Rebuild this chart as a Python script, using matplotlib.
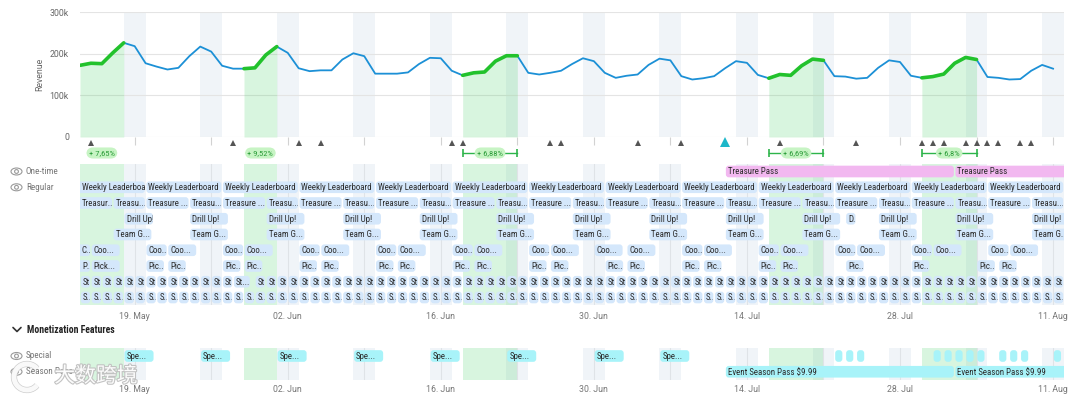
import numpy as np
import pandas as pd
import matplotlib
matplotlib.use("Agg")
import matplotlib.pyplot as plt
import matplotlib.dates as mdates
from matplotlib.patches import FancyBboxPatch, Ellipse, Circle, Arc
from matplotlib.font_manager import FontProperties
from matplotlib.transforms import Bbox, TransformedBbox
import matplotlib.patheffects as pe

plt.rcParams['font.family'] = ['Roboto', 'DejaVu Sans']
BAR_FONT = ['Roboto Condensed', 'Roboto', 'DejaVu Sans']

# ---------------- data ----------------
first_day = '2024-05-14'
last_day = '2024-08-11'
revenue_k = [172, 177, 176, 202, 226, 218, 177, 169, 162, 166, 194, 217, 205, 171, 164, 164, 166, 197,
             217, 202, 165, 158, 160, 160, 186, 201, 194, 152, 152, 152, 155, 175, 190, 189, 159, 148,
             154, 156, 182, 195, 195, 154, 150, 154, 159, 175, 189, 182,
             154, 142, 147, 150, 173, 188, 184, 146, 138, 141, 146, 165, 182, 178, 149, 141, 150, 148,
             171, 187, 184, 146, 145, 140, 142, 166, 184, 180, 147, 142, 145,
             151, 177, 191, 186, 144, 142, 138, 139, 159, 173, 164]
yticks_k = [0, 100, 200, 300]
tick_dates = ['2024-05-19', '2024-06-02', '2024-06-16', '2024-06-30', '2024-07-14', '2024-07-28', '2024-08-11']

uplift_starts = ['2024-05-14', '2024-05-29', '2024-06-18', '2024-07-16', '2024-07-30']
uplift_ends = ['2024-05-18', '2024-06-01', '2024-06-23', '2024-07-21', '2024-08-04']
uplift_labels = ['+ 7,65%', '+ 9,52%', '+ 6,88%', '+ 6,69%', '+ 6,8%']
uplift_bracket = [False, False, True, True, True]

note_dates = ['2024-05-15', '2024-05-28', '2024-06-03', '2024-06-05', '2024-06-17', '2024-06-18',
              '2024-06-26', '2024-06-27', '2024-07-04', '2024-07-08', '2024-07-17', '2024-07-24',
              '2024-07-30', '2024-07-31', '2024-08-01', '2024-08-03', '2024-08-04', '2024-08-05',
              '2024-08-06', '2024-08-08', '2024-08-09']
release_dates = ['2024-07-12']

# gantt (LiveOps events)
onetime_starts = ['2024-07-12', '2024-08-02']
onetime_days = [21, 21]
mondays = ['2024-05-13', '2024-05-20', '2024-05-27', '2024-06-03', '2024-06-10', '2024-06-17', '2024-06-24',
           '2024-07-01', '2024-07-08', '2024-07-15', '2024-07-22', '2024-07-29', '2024-08-05']
fridays = ['2024-05-17', '2024-05-24', '2024-05-31', '2024-06-07', '2024-06-14', '2024-06-21', '2024-06-28',
           '2024-07-05', '2024-07-12', '2024-07-19', '2024-07-26', '2024-08-02', '2024-08-09']
leaderboard_days = [7] * 13
treasure_a_days = [4] * 13
treasure_b_days = [3] * 13
drill_starts = ['2024-05-18'] + fridays[1:] + ['2024-07-23']
drill_days = [2.75] + [3.6] * 12 + [1.0]
team_days = [3.6] * 13
coop_starts = ['2024-05-13', '2024-05-15', '2024-05-20', '2024-05-22', '2024-05-27', '2024-05-29',
               '2024-06-03', '2024-06-05', '2024-06-10', '2024-06-12', '2024-06-17', '2024-06-19',
               '2024-06-24', '2024-06-26', '2024-06-30', '2024-07-03', '2024-07-08', '2024-07-10',
               '2024-07-15', '2024-07-17', '2024-07-22', '2024-07-24', '2024-07-29', '2024-07-31',
               '2024-08-05', '2024-08-07']
coop_days = [2, 2.7, 2, 2.7, 2, 2.7, 2, 2.7, 2, 2.7, 2, 2.7, 2, 2.7, 2.7, 2.7, 2, 2.7, 2, 2.7, 2, 2.7,
             2, 2.7, 2, 2.7]
pick_starts = ['2024-05-13', '2024-05-15', '2024-05-20', '2024-05-22', '2024-05-27', '2024-05-29',
               '2024-06-03', '2024-06-05', '2024-06-10', '2024-06-12', '2024-06-17', '2024-06-19',
               '2024-06-24', '2024-06-26', '2024-07-01', '2024-07-03', '2024-07-08', '2024-07-10',
               '2024-07-15', '2024-07-17', '2024-07-23', '2024-07-29', '2024-08-04', '2024-08-06']
pick_days = [2, 2.7] + [1.75] * 22
daily_first, daily_last = '2024-05-13', '2024-08-11'
st_long_start, st_long_days = '2024-05-28', 1.6
st_skip = ['2024-05-28', '2024-05-29']

# monetization
special_starts = ['2024-05-18', '2024-05-25', '2024-06-01', '2024-06-08', '2024-06-15', '2024-06-22',
                  '2024-06-30', '2024-07-06']
special_days = [2.8] * 8
special_dots = ['2024-07-22', '2024-07-23', '2024-07-24', '2024-07-31', '2024-08-01', '2024-08-02',
                '2024-08-03', '2024-08-04', '2024-08-06', '2024-08-07', '2024-08-08', '2024-08-11']
season_starts = ['2024-07-12', '2024-08-02']
season_days = [21, 21]

# ---------------- layout ----------------
W, H = 1080, 396
fig = plt.figure(figsize=(W / 100, H / 100), dpi=100)


def rect(left, top, right, bottom):
    return [left / W, 1 - bottom / H, (right - left) / W, (bottom - top) / H]


X0, X1 = 80, 1064
dates = pd.date_range(first_day, last_day)
xnum = mdates.date2num(dates)
xmin = xnum[0]
xmax = xnum[-1] + 1
PX_DAY = (X1 - X0) / (xmax - xmin)
num = lambda s: mdates.date2num(pd.Timestamp(s))

sundays = [d for d in dates if d.weekday() == 6]
saturdays = [d for d in dates if d.weekday() == 5]

BAND_C, BAND_A = '#e6edf4', 0.6
GREEN_C, GREEN_A = '#3fcf5f', 0.2
FS = 6.4
TXT_C = '#2b2b2b'
fp = FontProperties(family=BAR_FONT, size=FS)
renderer = fig.canvas.get_renderer()
ELL = '...'


def tw(s):
    w, h, d = renderer.get_text_width_height_descent(s, fp, ismath=False)
    return w


def fit(label, avail, mode):
    if tw(label) <= avail:
        return label
    base = label[:-3].rstrip() if label.endswith(ELL) else label
    for n in range(len(base) - 1, 0, -1):
        s = base[:n].rstrip() + ('' if mode == 'cut' else ELL)
        if tw(s) <= avail:
            return s
    return base[:1] + ('' if mode == 'cut' else '..')


def backdrop(ax, full_green=True):
    for s in saturdays:
        ax.axvspan(mdates.date2num(s), mdates.date2num(s) + 2, color=BAND_C, alpha=BAND_A, lw=0, zorder=0)
    if full_green:
        for s, e in zip(uplift_starts, uplift_ends):
            ax.axvspan(num(s), num(e), color=GREEN_C, alpha=GREEN_A, lw=0, zorder=0.5)


def draw_bars(ax, row, starts, durs, label, color, row_px, mode='ellipsis', h=0.74):
    asp = PX_DAY / row_px
    for s, d in zip(starts, durs):
        a = num(s) + 0.8 / PX_DAY
        b = num(s) + d - 0.8 / PX_DAY
        r = min(3.0, (b - a) * PX_DAY / 2) / PX_DAY
        p = FancyBboxPatch((a, row - h / 2), b - a, h, boxstyle=f"round,pad=0,rounding_size={r}",
                           mutation_aspect=asp, fc=color, ec='none', zorder=3)
        ax.add_patch(p)
        if label:
            v0, v1 = max(a, xmin), min(b, xmax)
            if v1 <= v0:
                continue
            avail = (v1 - v0) * PX_DAY + 2.0
            txt = label if mode == 'keep' else fit(label, avail, mode)
            t = ax.text(v0 + 2 / PX_DAY, row + 0.03, txt, fontsize=FS, family=BAR_FONT, color=TXT_C,
                        ha='left', va='center', zorder=4, clip_on=True)
            t.set_clip_box(TransformedBbox(Bbox([[v0, row - h / 2], [v1, row + h / 2]]), ax.transData))


# ---------------- revenue chart ----------------
ax = fig.add_axes(rect(X0, 12, X1, 137))
backdrop(ax, full_green=False)
vals = np.array(revenue_k, dtype=float)
ax.plot(xnum, vals, color='#1c90d6', lw=1.3, zorder=3, solid_joinstyle='round')
for s, e in zip(uplift_starts, uplift_ends):
    m = (dates >= pd.Timestamp(s)) & (dates <= pd.Timestamp(e))
    ax.fill_between(xnum[m], 0, vals[m], color=GREEN_C, alpha=GREEN_A, lw=0, zorder=1)
    ax.plot(xnum[m], vals[m], color='#22c22c', lw=2.6, zorder=4, solid_capstyle='round',
            solid_joinstyle='round')
ax.set_xlim(xmin, xmax)
ax.set_ylim(0, 300)
ax.set_yticks(yticks_k)
ax.set_yticklabels([f'{v}k' if v else '0' for v in yticks_k])
for v in yticks_k:
    ax.axhline(v, color='#e4e4e4', lw=0.8, zorder=0.8)
ax.set_xticks(mdates.date2num(sundays))
ax.tick_params(axis='x', length=6, color='#d2d2d2', width=0.8, labelbottom=False)
ax.tick_params(axis='y', length=0, pad=8, labelsize=6.3, labelcolor='#666666')
ax.set_ylabel('Revenue', fontsize=6.3, color='#666666')
ax.yaxis.set_label_coords((44 - X0) / (X1 - X0), 0.5)
for sp in ax.spines.values():
    sp.set_visible(False)

# ---------------- markers / uplift pills ----------------
axm = fig.add_axes(rect(X0, 137, X1, 163))
axm.set_xlim(xmin, xmax)
axm.set_ylim(163, 137)
axm.axis('off')
axm.plot(mdates.date2num(pd.to_datetime(note_dates)), [143.5] * len(note_dates), ls='none', marker='^',
         ms=4.4, color='#555555', mew=0)
axm.plot(mdates.date2num(pd.to_datetime(release_dates)), [142.5] * len(release_dates), ls='none',
         marker='^', ms=7, color='#1db7c9', mew=0)
for s, e, lab, br in zip(uplift_starts, uplift_ends, uplift_labels, uplift_bracket):
    c = (num(s) + num(e)) / 2
    if br:
        axm.plot([num(s), num(e)], [153, 153], color='#2db44a', lw=1, zorder=1)
        axm.plot([num(s), num(e)], [153, 153], ls='none', marker='|', ms=6, mew=1.2, color='#2db44a',
                 zorder=1)
    axm.text(c, 153, lab, ha='center', va='center', fontsize=6.1, family=BAR_FONT, color='#2a9c38',
             zorder=3, bbox=dict(boxstyle='round,pad=0.3,rounding_size=0.8', fc='#c7f4c4', ec='none'))

# ---------------- gantt ----------------
ROW = 15.75
axg = fig.add_axes(rect(X0, 171.5 - ROW / 2, X1, 297.5 + ROW / 2))
backdrop(axg)
for s in sundays:
    axg.axvline(mdates.date2num(s), color='#dfe3e7', lw=0.8, zorder=1)
axg.set_xlim(xmin, xmax)
axg.set_ylim(8.5, -0.5)
BLUE = '#d4e7fb'
draw_bars(axg, 0, onetime_starts, onetime_days, 'Treasure Pass', '#f2b8f0', ROW)
draw_bars(axg, 1, mondays, leaderboard_days, 'Weekly Leaderboard', BLUE, ROW, mode='cut')
draw_bars(axg, 2, mondays, treasure_a_days, 'Treasure ' + ELL, BLUE, ROW)
draw_bars(axg, 2, fridays, treasure_b_days, 'Treasure ' + ELL, BLUE, ROW)
draw_bars(axg, 3, drill_starts, drill_days, 'Drill Up!', BLUE, ROW)
draw_bars(axg, 4, fridays, team_days, 'Team G' + ELL, BLUE, ROW)
draw_bars(axg, 5, coop_starts, coop_days, 'Coo' + ELL, BLUE, ROW)
draw_bars(axg, 6, pick_starts, pick_days, 'Pick' + ELL, BLUE, ROW)
daily = [d.strftime('%Y-%m-%d') for d in pd.date_range(daily_first, daily_last)]
st_days_list = [d for d in daily if d not in st_skip]
draw_bars(axg, 7, st_days_list, [1] * len(st_days_list), 'St', BLUE, ROW, mode='keep')
draw_bars(axg, 7, [st_long_start], [st_long_days], 'St' + ELL, BLUE, ROW, mode='keep')
draw_bars(axg, 8, daily, [1] * len(daily), 'S..', BLUE, ROW, mode='keep')
axg.set_xticks(mdates.date2num(pd.to_datetime(tick_dates)))
axg.xaxis.set_major_formatter(mdates.DateFormatter('%d. %b'))
axg.tick_params(axis='x', length=0, pad=5, labelsize=6.3, labelcolor='#777777')
axg.set_yticks([])
for sp in axg.spines.values():
    sp.set_visible(False)

# ---------------- monetization ----------------
axs = fig.add_axes(rect(X0, 356 - ROW / 2, X1, 371.75 + ROW / 2))
backdrop(axs)
for s in sundays:
    axs.axvline(mdates.date2num(s), color='#dfe3e7', lw=0.8, zorder=1)
axs.set_xlim(xmin, xmax)
axs.set_ylim(1.5, -0.5)
CYAN = '#a8f3f9'
draw_bars(axs, 0, special_starts, special_days, 'Spe' + ELL, CYAN, ROW)
draw_bars(axs, 0, special_dots, [0.8] * len(special_dots), '', CYAN, ROW)
draw_bars(axs, 1, season_starts, season_days, 'Event Season Pass $9.99', CYAN, ROW)
axs.set_xticks(mdates.date2num(pd.to_datetime(tick_dates)))
axs.xaxis.set_major_formatter(mdates.DateFormatter('%d. %b'))
axs.tick_params(axis='x', length=0, pad=4, labelsize=6.3, labelcolor='#777777')
axs.set_yticks([])
for sp in axs.spines.values():
    sp.set_visible(False)

# ---------------- overlay: row labels, icons, header, watermark ----------------
axo = fig.add_axes([0, 0, 1, 1], zorder=10)
axo.set_xlim(0, W)
axo.set_ylim(H, 0)
axo.axis('off')
axo.patch.set_alpha(0)


def eye(x, y):
    axo.add_patch(Ellipse((x, y), 11, 7, fill=False, ec='#9a9a9a', lw=0.8))
    axo.add_patch(Circle((x, y), 1.9, fill=False, ec='#9a9a9a', lw=0.8))


for y, lab in [(171.5, 'One-time'), (187.3, 'Regular'), (356, 'Special'), (371.7, 'Season Pass')]:
    eye(16.5, y)
    axo.text(26, y, lab, fontsize=6.6, family=BAR_FONT, color='#777777', ha='left', va='center')

axo.plot([13, 17, 21], [327.5, 331.5, 327.5], color='#333333', lw=1.2, solid_capstyle='round')
axo.text(27, 330, 'Monetization Features', fontsize=7, fontweight='bold', family=BAR_FONT,
         color='#222222', ha='left', va='center')

# watermark
axo.add_patch(Arc((27, 377), 26, 26, theta1=40, theta2=320, ec='white', lw=3.5, alpha=0.9,
                  path_effects=[pe.withStroke(linewidth=4.5, foreground='#c8c8c8')]))
axo.text(96, 376, '大数跨境', fontsize=15, family=['Noto Sans CJK SC'], color='white', alpha=0.95,
         ha='center', va='center',
         path_effects=[pe.withStroke(linewidth=1.6, foreground='#c0c0c0')])

fig.savefig('out.png', dpi=100)
